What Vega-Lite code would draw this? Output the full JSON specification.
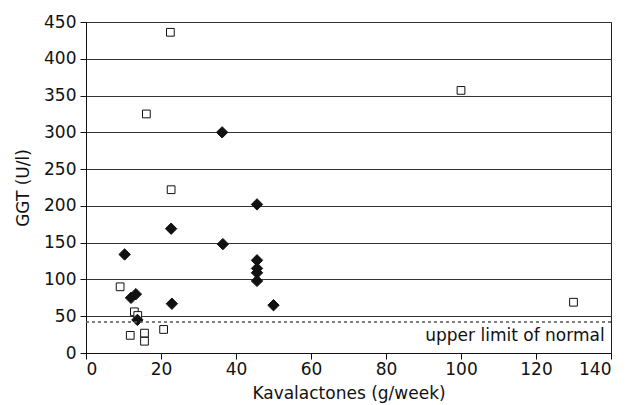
{
  "$schema": "https://vega.github.io/schema/vega-lite/v6.json",
  "autosize": "none",
  "padding": {"left": 86, "top": 22, "right": 20, "bottom": 52},
  "width": 525,
  "height": 331,
  "config": {
    "font": "DejaVu Sans",
    "view": {"stroke": "#222", "strokeWidth": 1},
    "axis": {
      "labelFont": "DejaVu Sans",
      "titleFont": "DejaVu Sans",
      "labelFontSize": 17,
      "titleFontSize": 17,
      "titleFontWeight": "normal",
      "labelColor": "#111",
      "titleColor": "#111",
      "domainColor": "#111",
      "tickColor": "#111",
      "tickSize": 6,
      "labelPadding": 2,
      "labelOverlap": false
    },
    "axisY": {"labelPadding": 4, "titlePadding": 11}
  },
  "layer": [
    {
      "data": {
        "values": [
          {"kava": 22.5, "ggt": 436, "group": "open"},
          {"kava": 16.1, "ggt": 325, "group": "open"},
          {"kava": 22.7, "ggt": 222, "group": "open"},
          {"kava": 100, "ggt": 357, "group": "open"},
          {"kava": 130, "ggt": 69, "group": "open"},
          {"kava": 9.1, "ggt": 90, "group": "open"},
          {"kava": 12.9, "ggt": 56, "group": "open"},
          {"kava": 13.8, "ggt": 51, "group": "open"},
          {"kava": 11.8, "ggt": 24, "group": "open"},
          {"kava": 15.6, "ggt": 27, "group": "open"},
          {"kava": 15.6, "ggt": 16, "group": "open"},
          {"kava": 20.7, "ggt": 32, "group": "open"},
          {"kava": 36.3, "ggt": 300, "group": "filled"},
          {"kava": 45.6, "ggt": 202, "group": "filled"},
          {"kava": 22.7, "ggt": 169, "group": "filled"},
          {"kava": 36.5, "ggt": 148, "group": "filled"},
          {"kava": 10.3, "ggt": 134, "group": "filled"},
          {"kava": 45.6, "ggt": 126, "group": "filled"},
          {"kava": 45.6, "ggt": 115, "group": "filled"},
          {"kava": 45.6, "ggt": 109, "group": "filled"},
          {"kava": 45.6, "ggt": 98, "group": "filled"},
          {"kava": 12.0, "ggt": 75, "group": "filled"},
          {"kava": 13.3, "ggt": 80, "group": "filled"},
          {"kava": 22.9, "ggt": 67, "group": "filled"},
          {"kava": 50.0, "ggt": 65, "group": "filled"},
          {"kava": 13.7, "ggt": 45, "group": "filled"}
        ]
      },
      "mark": {"type": "point", "filled": true, "stroke": "#111", "strokeWidth": 1, "opacity": 1},
      "encoding": {
        "x": {
          "field": "kava", "type": "quantitative",
          "scale": {"domain": [0, 140], "nice": false},
          "axis": {"values": [0, 20, 40, 60, 80, 100, 120, 140], "grid": false, "title": "Kavalactones (g/week)", "titlePadding": 8}
        },
        "y": {
          "field": "ggt", "type": "quantitative",
          "scale": {"domain": [0, 450], "nice": false},
          "axis": {"values": [0, 50, 100, 150, 200, 250, 300, 350, 400, 450], "grid": true, "gridColor": "#333", "gridWidth": 1, "title": "GGT (U/l)"}
        },
        "shape": {"field": "group", "type": "nominal", "scale": {"domain": ["open", "filled"], "range": ["square", "diamond"]}, "legend": null},
        "fill": {"field": "group", "type": "nominal", "scale": {"domain": ["open", "filled"], "range": ["white", "#111"]}, "legend": null},
        "size": {"field": "group", "type": "nominal", "scale": {"domain": ["open", "filled"], "range": [60, 130]}, "legend": null},
        "order": {"field": "group", "sort": "descending"}
      }
    },
    {
      "data": {"values": [{"limit": 42}]},
      "mark": {"type": "rule", "strokeDash": [3, 3], "color": "#555", "strokeWidth": 1.5},
      "encoding": {
        "y": {
          "field": "limit", "type": "quantitative",
          "axis": {"values": [0, 50, 100, 150, 200, 250, 300, 350, 400, 450], "grid": true, "gridColor": "#333", "gridWidth": 1, "title": "GGT (U/l)"}
        }
      }
    },
    {
      "data": {"values": [{"x": 138.3, "y": 23, "label": "upper limit of normal"}]},
      "mark": {"type": "text", "align": "right", "baseline": "middle", "fontSize": 17, "fill": "#111", "font": "DejaVu Sans"},
      "encoding": {
        "text": {"field": "label"},
        "x": {
          "field": "x", "type": "quantitative",
          "axis": {"values": [0, 20, 40, 60, 80, 100, 120, 140], "grid": false, "title": "Kavalactones (g/week)", "titlePadding": 8}
        },
        "y": {
          "field": "y", "type": "quantitative",
          "axis": {"values": [0, 50, 100, 150, 200, 250, 300, 350, 400, 450], "grid": true, "gridColor": "#333", "gridWidth": 1, "title": "GGT (U/l)"}
        }
      }
    }
  ]
}
